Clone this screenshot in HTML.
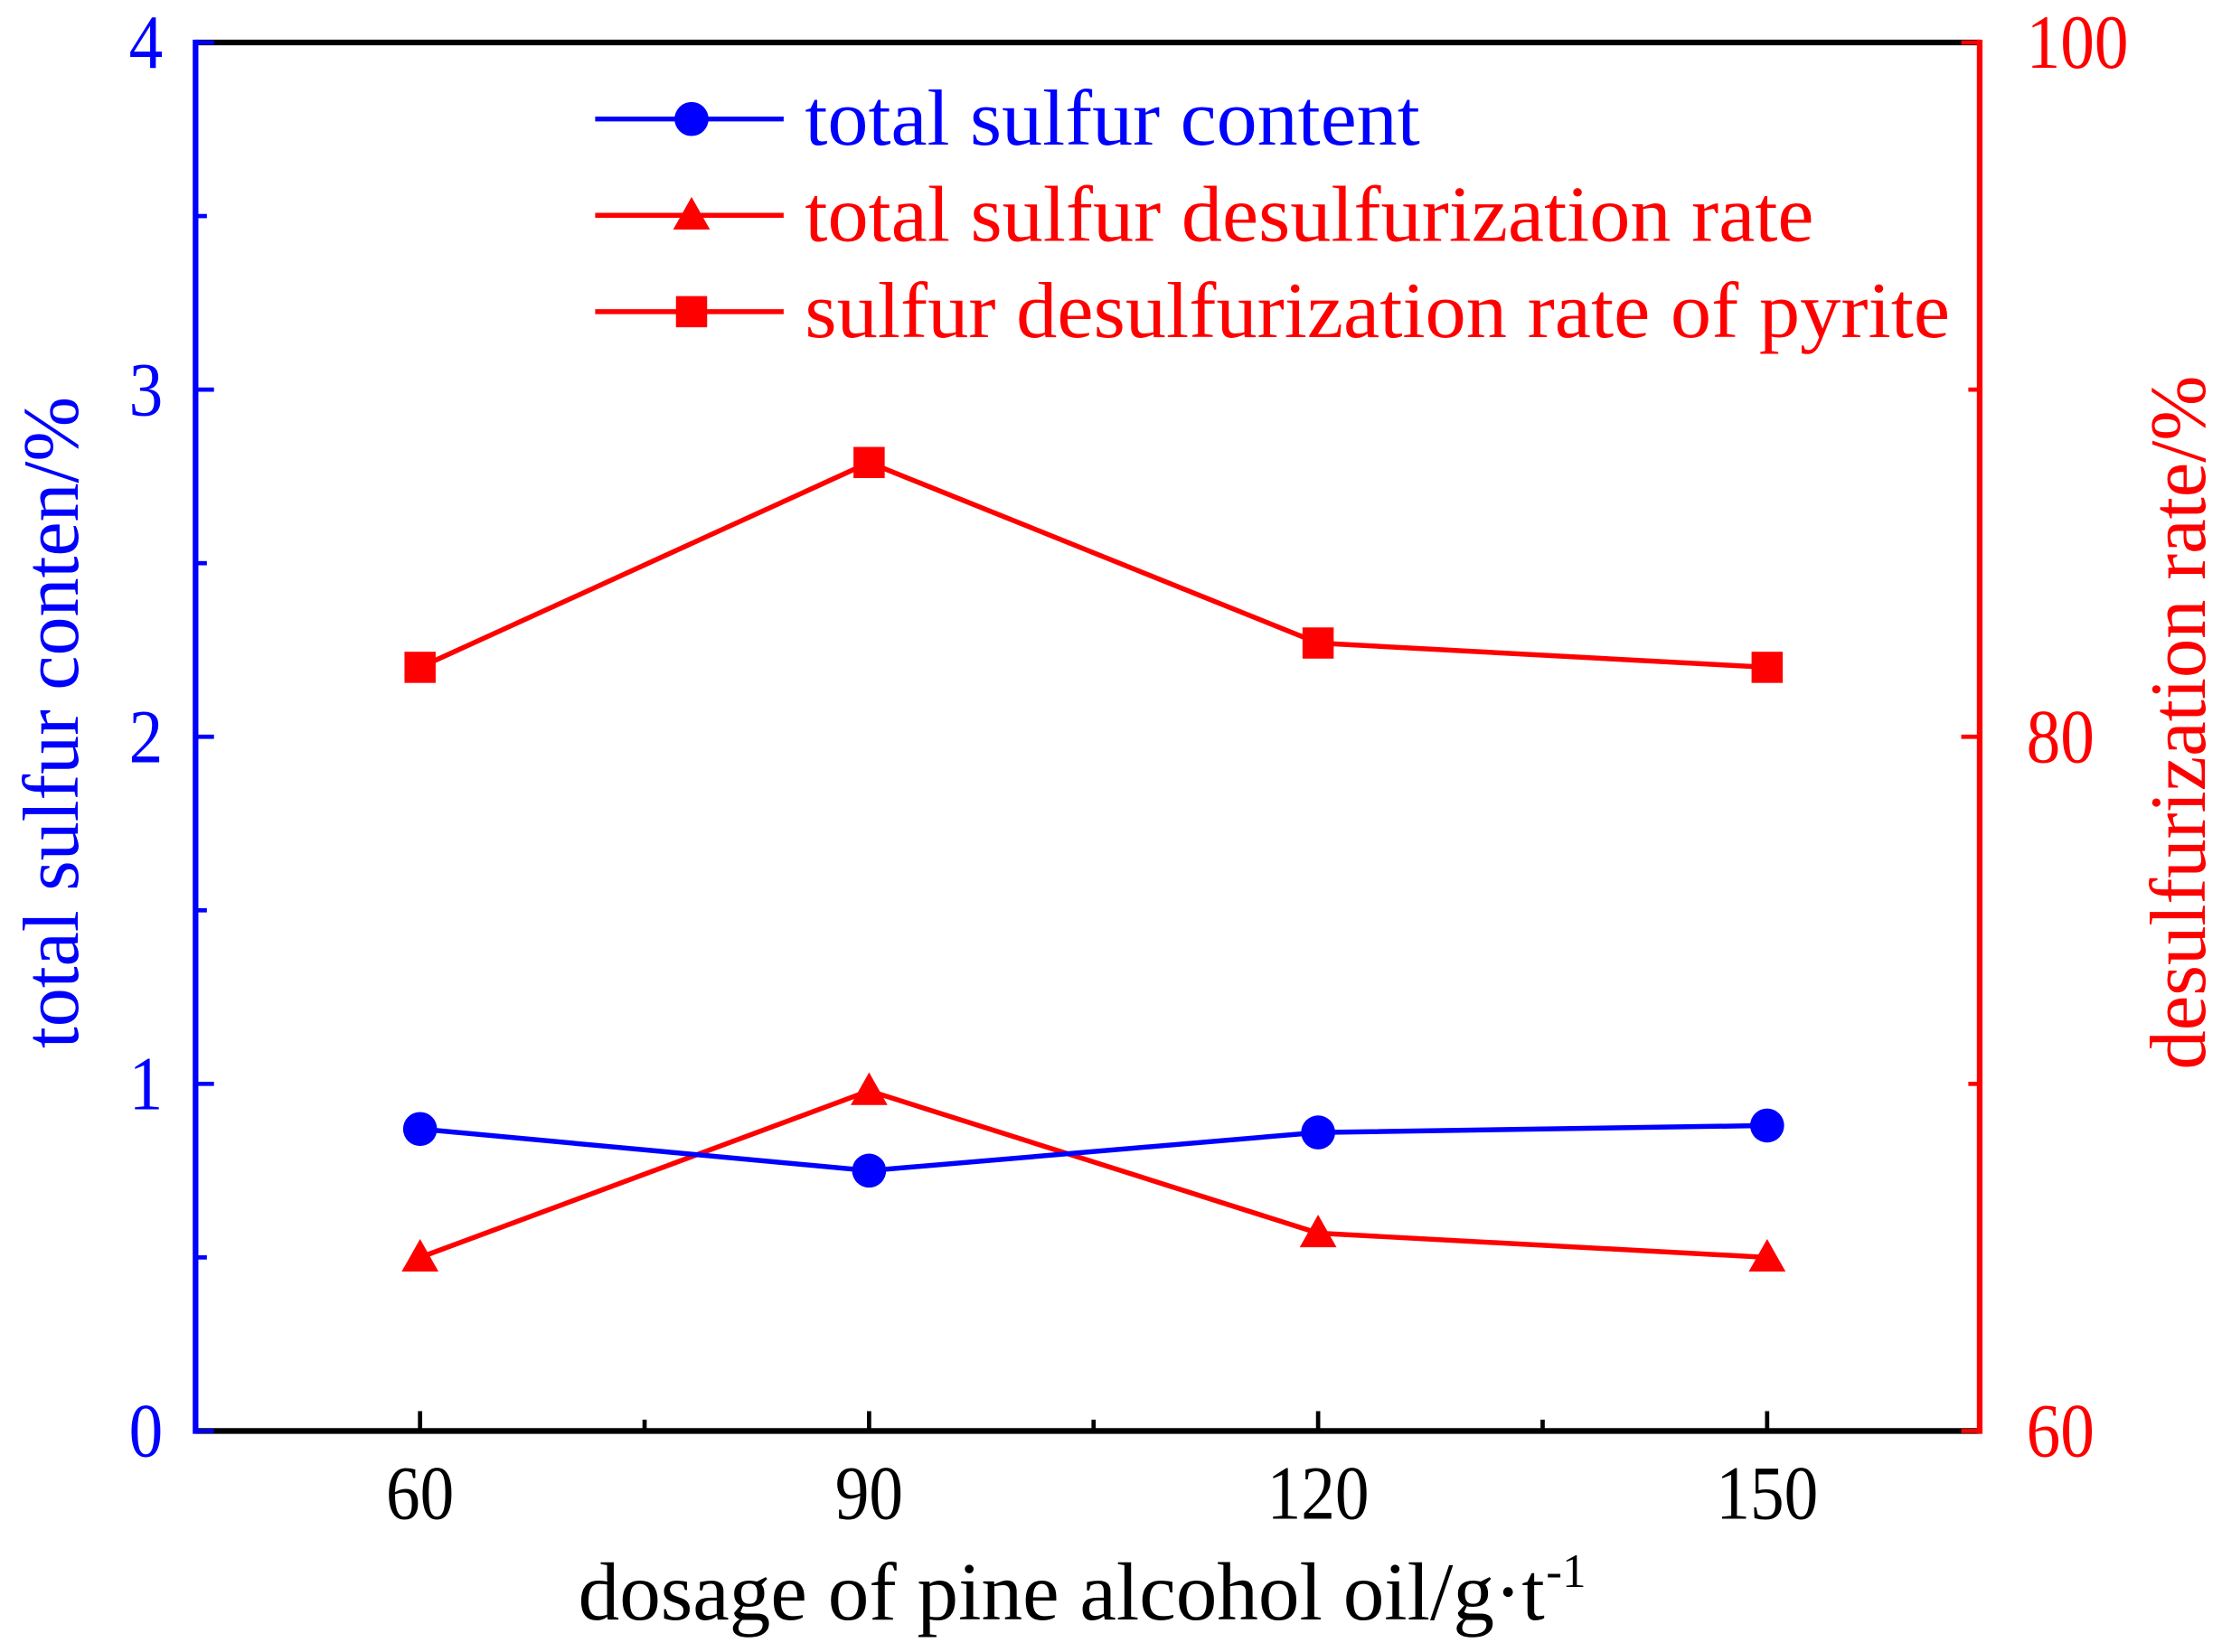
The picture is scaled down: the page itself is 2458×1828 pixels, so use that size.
<!DOCTYPE html>
<html><head><meta charset="utf-8"><style>
html,body{margin:0;padding:0;background:#fff;width:2458px;height:1828px;overflow:hidden}
svg{display:block}
text{font-family:"Liberation Serif",serif}
</style></head><body>
<svg id="chart" width="2458" height="1828" viewBox="0 0 1568 1166" preserveAspectRatio="none" xmlns="http://www.w3.org/2000/svg">
<g id="axes"></g>
<g id="series"></g>
<g id="legend"></g>
</svg>
<script>
const categories = [60, 90, 120, 150];
const sulfurContent = [0.87, 0.75, 0.86, 0.88];
const totalDesulfRate = [65.0, 69.8, 65.7, 65.0];
const pyriteDesulfRate = [82.0, 87.9, 82.7, 82.0];
const leftTicks = [0, 1, 2, 3, 4];
const rightTicks = [60, 80, 100];
const xTicks = [60, 90, 120, 150];

const L = 138, R = 1397, T = 30, B = 1010;
const xMin = 45, xMax = 164.2;
const sx = v => L + (v - xMin) / (xMax - xMin) * (R - L);
const syL = v => B - v / 4 * (B - T);
const syR = v => B - (v - 60) / 40 * (B - T);
const NS = "http://www.w3.org/2000/svg";
function mk(tag, attrs, parent, txt) {
  const e = document.createElementNS(NS, tag);
  for (const k in attrs) e.setAttribute(k, attrs[k]);
  if (txt !== undefined) e.textContent = txt;
  parent.appendChild(e);
  return e;
}
const axes = document.getElementById('axes');
const series = document.getElementById('series');
const legend = document.getElementById('legend');
const digitW = 24;

let e;
e = mk('line', {x1: L, y1: T, x2: R, y2: T, stroke: '#000', 'stroke-width': 4}, axes);


e = mk('line', {x1: L, y1: B, x2: R, y2: B, stroke: '#000', 'stroke-width': 4}, axes);


e = mk('line', {x1: L, y1: T - 2, x2: L, y2: B + 2, stroke: '#0000ff', 'stroke-width': 4}, axes);


e = mk('line', {x1: R, y1: T - 2, x2: R, y2: B + 2, stroke: '#ff0000', 'stroke-width': 4}, axes);



xTicks.forEach((v, i) => {
  const x = sx(v);
  let t = mk('line', {x1: x, y1: B, x2: x, y2: B - 14, stroke: '#000', 'stroke-width': 3}, axes);
  
  
  const s = String(v);
  let lb = mk('text', {x: x, y: 1072, 'font-size': 54, 'text-anchor': 'middle', fill: '#000', textLength: s.length * digitW, lengthAdjust: 'spacingAndGlyphs'}, axes, s);
  
  
  if (i < xTicks.length - 1) {
    const xm = sx(v + 15);
    let m = mk('line', {x1: xm, y1: B, x2: xm, y2: B - 8, stroke: '#000', 'stroke-width': 3}, axes);
    
    
  }
});
leftTicks.forEach((v, i) => {
  const y = syL(v);
  let t = mk('line', {x1: L, y1: y, x2: L + 13, y2: y, stroke: '#0000ff', 'stroke-width': 3}, axes);
  
  
  const s = String(v);
  let lb = mk('text', {x: 103, y: y + 18, 'font-size': 54, 'text-anchor': 'middle', fill: '#0000ff', textLength: s.length * digitW, lengthAdjust: 'spacingAndGlyphs'}, axes, s);
  
  
  if (i < leftTicks.length - 1) {
    const ym = syL(v + 0.5);
    let m = mk('line', {x1: L, y1: ym, x2: L + 8, y2: ym, stroke: '#0000ff', 'stroke-width': 3}, axes);
    
    
  }
});
rightTicks.forEach((v, i) => {
  const y = syR(v);
  let t = mk('line', {x1: R, y1: y, x2: R - 13, y2: y, stroke: '#ff0000', 'stroke-width': 3}, axes);
  
  
  const s = String(v);
  let lb = mk('text', {x: 1430, y: y + 18, 'font-size': 54, 'text-anchor': 'start', fill: '#ff0000', textLength: s.length * digitW, lengthAdjust: 'spacingAndGlyphs'}, axes, s);
  
  
  if (i < rightTicks.length - 1) {
    const ym = syR(v + 10);
    let m = mk('line', {x1: R, y1: ym, x2: R - 8, y2: ym, stroke: '#ff0000', 'stroke-width': 3}, axes);
    
    
  }
});
e = mk('text', {x: 408, y: 1143, 'font-size': 58, fill: '#000', textLength: 682, lengthAdjust: 'spacingAndGlyphs'}, axes, 'dosage of pine alcohol oil/g·t');


e = mk('text', {x: 1091, y: 1120, 'font-size': 34, fill: '#000'}, axes, '-1');


e = mk('text', {x: 0, y: 0, 'font-size': 56, 'text-anchor': 'middle', fill: '#0000ff', textLength: 460, lengthAdjust: 'spacingAndGlyphs', transform: 'translate(55,510) rotate(-90)'}, axes, 'total sulfur conten/%');


e = mk('text', {x: 0, y: 0, 'font-size': 56, 'text-anchor': 'middle', fill: '#ff0000', textLength: 490, lengthAdjust: 'spacingAndGlyphs', transform: 'translate(1556,510) rotate(-90)'}, axes, 'desulfurization rate/%');



function marker(type, x, y, color, parent) {
  let m;
  if (type === 'circle') m = mk('circle', {cx: x, cy: y, r: 12, fill: color}, parent);
  else if (type === 'square') m = mk('rect', {x: x - 11, y: y - 11, width: 22, height: 22, fill: color}, parent);
  else m = mk('polygon', {points: `${x},${y - 13} ${x + 13},${y + 10} ${x - 13},${y + 10}`, fill: color}, parent);
  return m;
}
function drawSeries(vals, scale, color, type, name) {
  const g = mk('g', {}, series);
  
  
  const pts = vals.map((v, i) => sx(categories[i]) + ',' + scale(v)).join(' ');
  const pl = mk('polyline', {points: pts, fill: 'none', stroke: color, 'stroke-width': 3.5}, g);
  
  
  vals.forEach((v, i) => {
    const m = marker(type, sx(categories[i]), scale(v), color, g);
    
    
  });
}
drawSeries(pyriteDesulfRate, syR, '#ff0000', 'square', 'pyrite-desulfurization-rate');
drawSeries(totalDesulfRate, syR, '#ff0000', 'triangle', 'total-desulfurization-rate');
drawSeries(sulfurContent, syL, '#0000ff', 'circle', 'total-sulfur-content');

const legendItems = [
  ['total sulfur content', '#0000ff', 'circle', 84, 434],
  ['total sulfur desulfurization rate', '#ff0000', 'triangle', 152, 712],
  ['sulfur desulfurization rate of pyrite', '#ff0000', 'square', 220, 808]
];
legendItems.forEach(it => {
  const g = mk('g', {}, legend);
  
  
  mk('line', {x1: 420, y1: it[3], x2: 553, y2: it[3], stroke: it[1], 'stroke-width': 3.5}, g);
  marker(it[2], 488, it[3], it[1], g);
  const t = mk('text', {x: 568, y: it[3] + 18, 'font-size': 56, fill: it[1], textLength: it[4], lengthAdjust: 'spacingAndGlyphs'}, g, it[0]);
  
  
});
</script>
</body></html>
